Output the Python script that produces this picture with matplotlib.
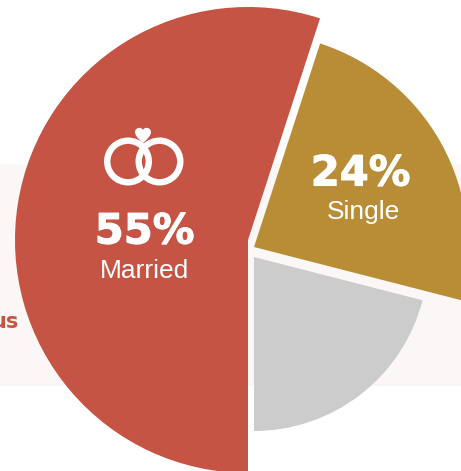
import matplotlib
matplotlib.use("Agg")
import matplotlib.pyplot as plt
import matplotlib.patheffects as pe
from matplotlib.patches import Wedge, Circle, Rectangle, PathPatch
from matplotlib.path import Path

categories = ["Married", "Single", "Other"]
shares = [55, 24, 21]
share_labels = ["55%", "24%"]
colors = ["#C55444", "#B88D35", "#CCCCCC"]
centers = [(248, 240), (254, 247), (254, 257)]
radii = [233, 214, 174]

fig = plt.figure(figsize=(4.61, 4.71), dpi=100)
ax = fig.add_axes([0, 0, 1, 1])
ax.set_xlim(0, 461)
ax.set_ylim(471, 0)
ax.axis("off")

# pale band behind the pie
ax.add_patch(Rectangle((0, 164), 461, 222, color="#FBF7F6", lw=0, zorder=1))

# y axis is flipped, so angles run clockwise; start at south
start = 90
for i in range(len(shares)):
    end = start + shares[i] * 3.6
    ax.add_patch(Wedge(centers[i], radii[i], start, end, color=colors[i], lw=0, zorder=2))
    start = end

# rings icon
ax.add_patch(Circle((128, 161.5), 20.8, fill=False, ec="white", lw=4.6, zorder=3))
ax.add_patch(Circle((159.5, 161.5), 20.8, fill=False, ec="white", lw=4.6, zorder=3))
heart = Path(
    [(143, 143), (136, 137), (135, 134), (135, 132),
     (135, 128), (141, 126), (143, 130),
     (145, 126), (151, 128), (151, 132),
     (151, 134), (150, 137), (143, 143)],
    [Path.MOVETO, Path.CURVE4, Path.CURVE4, Path.CURVE4,
     Path.CURVE4, Path.CURVE4, Path.CURVE4,
     Path.CURVE4, Path.CURVE4, Path.CURVE4,
     Path.CURVE4, Path.CURVE4, Path.CURVE4],
)
ax.add_patch(PathPatch(heart, fc="white", lw=0, zorder=3))

# the percentages are heavier than DejaVu Bold, a thin outline thickens them
heavy = [pe.withStroke(linewidth=0.8, foreground="white")]
ax.text(144.5, 243.5, share_labels[0], color="white", fontsize=30, fontweight="bold",
        family="DejaVu Sans", ha="center", va="baseline", zorder=3, path_effects=heavy)
ax.text(144, 278, categories[0], color="white", fontsize=19, family="Liberation Sans",
        ha="center", va="baseline", zorder=3)
ax.text(360.5, 185.5, share_labels[1], color="white", fontsize=30, fontweight="bold",
        family="DejaVu Sans", ha="center", va="baseline", zorder=3, path_effects=heavy)
ax.text(363, 219, categories[1], color="white", fontsize=19, family="Liberation Sans",
        ha="center", va="baseline", zorder=3)

ax.text(19, 328, "us", color="#C55444", fontsize=15, fontweight="bold", family="DejaVu Sans",
        ha="right", va="baseline", zorder=1.5)

fig.savefig("out.png", dpi=100)
